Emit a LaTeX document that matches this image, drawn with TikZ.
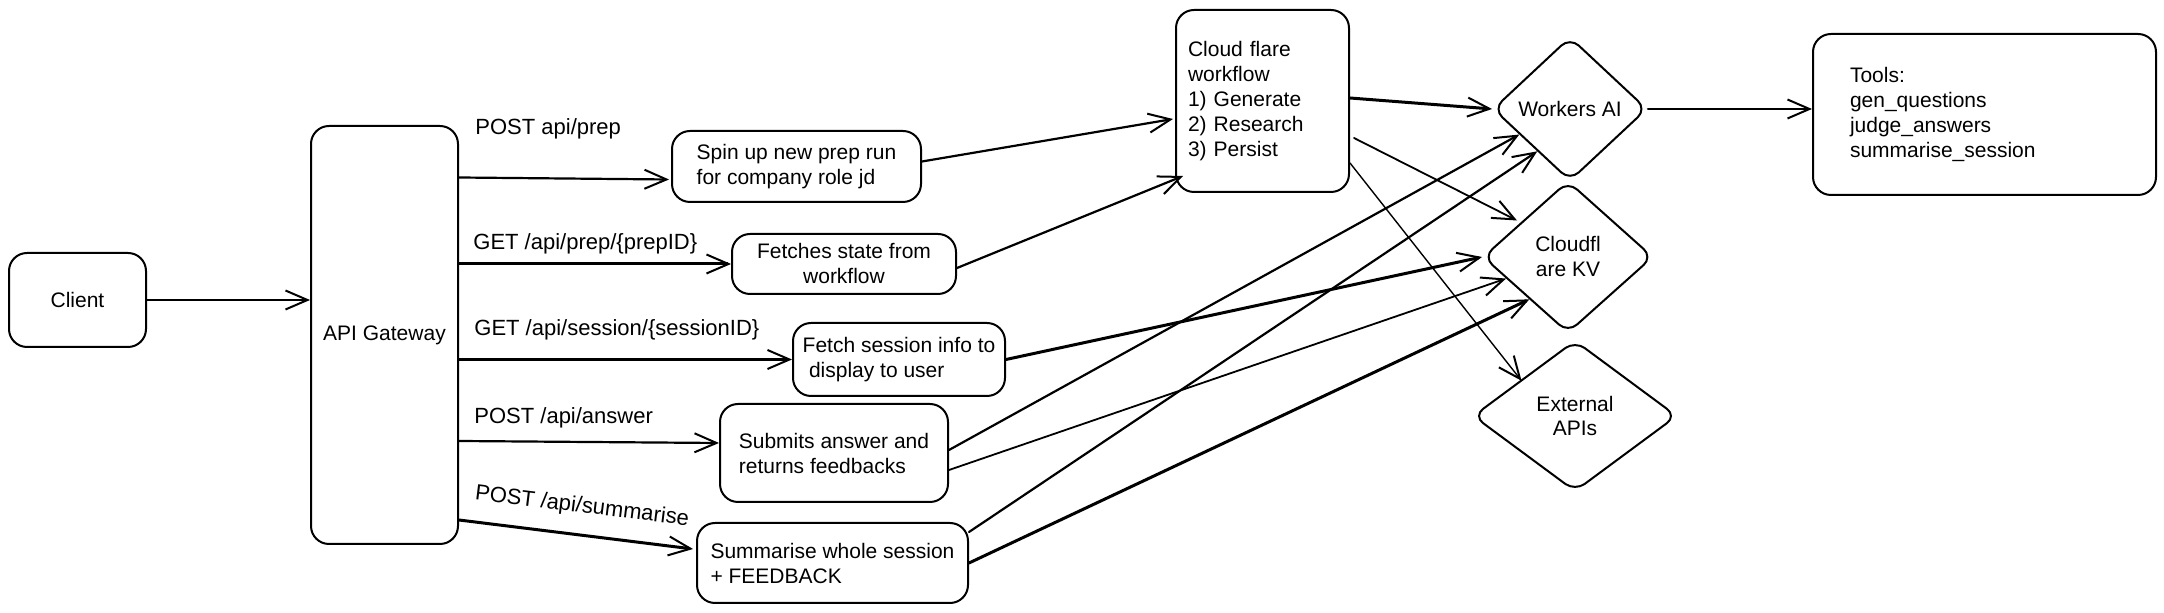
\documentclass[tikz,border=0pt]{standalone}
\usepackage{fontspec}
\setmainfont{Liberation Sans}
\usetikzlibrary{arrows.meta,shapes.geometric,calc}
\begin{document}
\begin{tikzpicture}[x=0.5pt,y=-0.5pt,
  box/.style={draw, line width=1pt, rounded corners=9pt, align=left, inner sep=0pt, font=\fontsize{10.5}{12.5}\selectfont},
  dia/.style={draw, diamond, line width=1pt, rounded corners=6pt, align=center, inner sep=0pt, font=\fontsize{10.5}{12.5}\selectfont},
  lbl/.style={anchor=west, inner sep=0pt, font=\fontsize{11}{13}\selectfont},
  arrA/.style={-{Straight Barb[length=11pt,width=9.5pt,line width=1pt]}, line width=1.1pt, line cap=round},
  arrB/.style={arrA, line width=1.5pt},
  arrC/.style={arrA, line width=0.7pt},
  arrD/.style={arrA, line width=0.9pt}
]
\fill[white] (0,0) rectangle (2164,613);
\useasboundingbox (0,0) rectangle (2164,613);

% nodes
\node[box, minimum width=68.5pt, minimum height=47pt, align=center] (client) at (77.5,300) {Client};
\node[box, minimum width=73.5pt, minimum height=209pt, align=center] (api) at (384.5,335) {API Gateway};
\node[box, minimum width=124.5pt, minimum height=35.5pt] (spin) at (796.5,166.5) {Spin up new prep run\\for company role jd};
\node[box, minimum width=112pt, minimum height=30pt, align=center] (fetch) at (844,264) {Fetches state from\\workflow};
\node[box, minimum width=106pt, minimum height=36.5pt] (sess) at (899,359.5) {Fetch session info to\\\hspace{0.3em}display to user};
\node[box, minimum width=114pt, minimum height=49pt] (submit) at (834,453) {Submits answer and\\returns feedbacks};
\node[box, minimum width=135.5pt, minimum height=40pt] (summ) at (832.5,563) {Summarise whole session\\+ FEEDBACK};
\node[box, minimum width=86.5pt, minimum height=91pt, text width=74.5pt] (wf) at (1262.5,101) {Cloud flare\\workflow\\1) Generate\\2) Research\\3) Persist};
\node[dia, minimum width=77pt, minimum height=72pt] (wai) at (1570,109) {Workers AI};
\node[dia, minimum width=85pt, minimum height=76pt] (kv) at (1568,257) {Cloudfl\\are KV};
\node[dia, minimum width=102pt, minimum height=75.5pt] (ext) at (1575,416) {External\\APIs};
\node[box, minimum width=171.5pt, minimum height=80.5pt, text width=134.5pt] (tools) at (1984.5,114.5) {Tools:\\gen\_questions\\judge\_answers\\summarise\_session};

% labels
\node[lbl] (l1) at (475,129) {POST api/prep};
\node[lbl] (l2) at (473,244) {GET /api/prep/\{prepID\}};
\node[lbl] (l3) at (474,330) {GET /api/session/\{sessionID\}};
\node[lbl] (l4) at (474,418) {POST /api/answer};
\node[lbl, anchor=center, rotate=-7] (l5) at (582,507) {POST /api/summarise};

% connectors
\draw[arrA] (client.east) -- (client.east -| api.west);
\draw[arrA] ($(api.east |- spin.west)+(0,11)$) -- ($(spin.west)+(-2,13)$);
\draw[arrB] (api.east |- fetch.west) -- (fetch.west);
\draw[arrB] (api.east |- sess.west) -- (sess.west);
\draw[arrA] ($(api.east |- submit.west)+(0,-12)$) -- ($(submit.west)+(0,-10)$);
\draw[arrB] ($(api.east)+(0,185)$) -- ($(summ.west)+(-3,-14)$);

\draw[arrA] ($(spin.east)+(0,-5)$) -- ($(wf.west)+(-2,18)$);
\draw[arrA] ($(fetch.east)+(0,4)$) -- ($(wf.south west)+(8,-17)$);
\draw[arrB] ($(wf.east)+(0,-3)$) -- (wai.west);
\draw[arrA] (wai.east) -- (wai.east -| tools.west);
\draw[arrD] ($(wf.east)+(4,37)$) -- ($(kv.north west)+(-8,2)$);
\draw[arrC] ($(wf.east)+(0,62)$) -- ($(ext.north west)+(-2,3)$);

\draw[arrB] (sess.east) -- (kv.west);
\draw[arrA] ($(submit.east)+(0,-3)$) -- ($(wai.west)!0.35!(wai.south)$);
\draw[arrD] ($(submit.east)+(0,17)$) -- ($(kv.west)!0.28!(kv.south)$);
\draw[arrA] ($(summ.east)+(0,-31)$) -- ($(wai.west)!0.58!(wai.south)$);
\draw[arrB] (summ.east) -- ($(kv.west)!0.55!(kv.south)$);
\end{tikzpicture}
\end{document}
